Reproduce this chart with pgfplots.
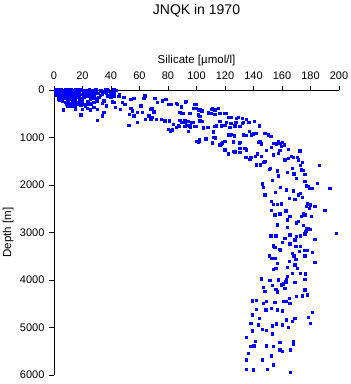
\documentclass[border=0pt]{standalone}
\usepackage{pgfplots}
\pgfplotsset{compat=1.18}
\usepackage{fontspec}
\setmainfont{Liberation Sans}
\definecolor{ptblue}{RGB}{0,0,255}
\begin{document}
\begin{tikzpicture}[x=1pt,y=1pt]
\useasboundingbox (0,0) rectangle (351,384);
\begin{axis}[
  at={(54pt,9pt)}, anchor=south west,
  scale only axis, width=285pt, height=285pt,
  xmin=0, xmax=200, ymin=0, ymax=6000,
  y dir=reverse,
  axis x line=top, axis y line=left,
  axis line style={-, line width=0.8pt, black},
  xtick={0,20,...,200}, ytick={0,1000,...,6000},
  tick align=outside, major tick length=4.5pt,
  tick style={line width=0.8pt, black},
  /pgf/number format/assume math mode=true,
  /pgf/number format/1000 sep={},
  ticklabel style={font=\fontsize{11}{12}\selectfont},
  xticklabel style={yshift=2.5pt},
  yticklabel style={xshift=-1.5pt},
  xlabel={Silicate [µmol/l]},
  xlabel style={at={(axis description cs:0.5,1.105)}, anchor=center, font=\fontsize{11.5}{13}\selectfont},
  ylabel={Depth [m]},
  ylabel style={at={(axis description cs:-0.161,0.5)}, anchor=center, font=\fontsize{11.5}{13}\selectfont},
  title={JNQK in 1970},
  title style={at={(axis description cs:0.5,1.288)}, anchor=center, yshift=-9pt, font=\fontsize{14}{16}\selectfont},
  clip=false,
]
\addplot[only marks, mark=square*, mark size=1.25pt, color=ptblue, mark options={line width=0pt}] table {
x y
1 5
2 10
3 0
4 15
5 5
6 20
7 10
8 0
9 25
10 5
11 15
12 0
13 10
14 20
15 5
17 15
19 0
21 10
23 20
25 5
27 15
30 0
33 10
36 5
38 20
42 0
44 10
1 40
2 60
3 80
4 50
5 70
6 90
7 45
8 65
9 85
10 55
11 75
12 95
13 40
14 60
15 80
16 50
18 70
20 90
22 45
24 65
26 85
28 55
31 75
34 95
37 60
40 80
2 110
3 130
4 150
5 170
6 190
7 120
8 140
9 160
10 180
11 105
12 125
13 145
14 165
15 185
16 115
17 135
18 155
19 175
20 195
22 110
24 130
26 150
28 170
30 190
3 185
5 125
7 175
9 105
11 195
13 115
4 210
6 240
8 260
10 230
12 280
14 250
16 300
18 220
20 270
22 310
24 240
26 290
9 300
11 330
13 220
15 340
17 260
19 320
6.5 420
19 526
15 21
17.5 0
21 21
23.4 56
27 21
29 0
33 21
35 56
37.4 0
40 56
42 42
45.6 141
49 162
54 197
56 176
63 183
64 127
35 232
34 281
37 337
42 267
43 372
46.8 407
48 267
50 302
54 393
55 442
53 513
56 548
58.5 477
61 337
62 477
64.3 618
68 407
66.7 548
68 618
52.6 744
58.5 688
30.4 639
34 548
35 477
28 372
30.4 407
25.7 421
23.4 393
20 407
22 337
18.7 534
15.2 407
14 337
16.4 302
12.9 267
10.5 302
11.7 351
9.4 337
17.5 267
21 302
24.6 302
28 267
30.4 232
25.7 197
21 162
16.4 162
14 127
18.7 91
23.4 127
28 127
31.6 162
32.7 112
37.4 127
40 162
41 253
42 127
46 91
70.9 176
72.5 267
76.3 232
78.6 197
80.3 302
82.6 302
86.1 281
89.6 351
92.7 246
97.8 393
99.7 302
101.3 407
103.7 442
108.3 477
110.7 407
113 421
115.4 393
120 491
122.4 583
124.7 583
129.4 583
132.4 604
135.2 618
68.6 393
70.2 463
68.6 583
72.1 618
75.6 618
77.9 653
81 653
83.8 723
80.3 828
81.9 863
87.3 758
89.6 688
92 653
93.1 744
95.5 758
97.8 688
100.1 772
102.5 653
104.8 793
107.6 793
111.8 884
114.2 758
117.7 758
120 744
123.5 793
127.1 758
130.5 772
132.9 688
136.4 688
102 1039
101.3 1095
106.7 1018
111.4 1123
113 1004
116.5 1165
118.4 1123
123.5 955
125.9 1095
130.1 1123
120 1263
122.4 1355
127.1 1305
130.5 1319
134.1 1235
134.8 1425
137.6 1460
111.8 1004
82.6 302
86.5 302
89.6 365
92.2 253
99 302
100.1 386
101.3 421
102.9 407
111.4 400
115.3 386
88.4 477
89.6 491
90.8 491
95.4 491
101.3 526
102.5 561
108.3 491
110.6 491
113 512
116.5 491
120.7 491
123.5 583
128.2 597
132.4 597
88.4 646
91.9 688
94.3 667
96.6 688
99 772
104.1 667
116.5 667
121.2 688
124.2 702
127.7 681
132.4 702
137.1 688
140.8 667
144.1 758
86.1 786
88 772
91.9 772
95.9 786
104.8 807
108.3 786
113 772
83.3 842
94.3 877
100.1 1088
102 1074
106.7 1039
111.1 1109
111.8 877
113.4 1018
118.1 1109
120 1088
122.3 947
124.7 933
126.5 968
130.5 1109
132.9 947
135.2 961
137.1 877
138.7 947
139.9 926
142.2 912
143.4 1109
144.6 1088
145.7 1137
148.1 912
150.4 947
152.3 983
153.9 1123
156.2 1137
158.6 1123
160.2 1109
157.4 1088
161.6 1158
164.4 1256
159.8 1193
116.5 1158
117.7 1137
120 1263
122.3 1347
125.8 1298
127.2 1319
130.5 1228
135.2 1263
138.2 1418
141.5 1404
142.9 1347
145.7 1404
148.1 1509
149.2 1277
152.7 1214
153.9 1368
157.4 1333
158.6 1277
162.1 1474
164.4 1439
166.8 1404
167.9 1418
171 1418
171.5 1474
172.6 1284
173.1 1586
174.5 1530
176.1 1776
186.2 1586
142.2 1579
145 1579
147.4 1530
151.1 1670
152 1649
156.7 1705
157.4 1811
164 1733
167.5 1649
168.4 1769
170.3 1860
173.8 1684
175 1698
146.2 1979
146.9 2049
148.1 2211
153.4 1909
155.5 2162
159 2049
163 2105
165.1 2281
167.9 2126
169.1 2302
171.5 2211
173.1 2176
174.5 2260
176.1 1930
177.3 2021
178.5 2035
179.6 2070
181.5 2070
185 1965
193.7 2070
152.7 2351
153.9 2407
156.7 2407
159.8 2400
152.7 2540
155.1 2632
158.6 2611
162.8 2548
163.7 2737
165.6 2667
170.3 2807
171.5 2772
173.8 2667
175 2597
176.1 2632
177.3 2456
178 2400
179.2 2491
180.1 2421
180.8 2667
183.1 2456
190.2 2540
177.3 2913
179.6 2934
175 2856
156.7 2842
164 2891
157 2835
170.3 2793
176.8 2983
178.5 2912
183.1 3144
198.4 3018
152.3 3074
155.8 3074
162.1 3123
165.6 3053
169.1 3158
170.3 3088
173.1 3074
176.1 3032
160.2 3214
165.6 3242
169.8 3298
173.1 3298
153.9 3284
155.1 3312
158.6 3354
159.1 3383
172.2 3404
176.1 3383
178 3383
181.3 3418
151.1 3495
152.7 3544
155.1 3544
156.7 3649
167.5 3439
168.4 3495
169.8 3565
165.1 3614
176.1 3495
183.1 3628
153.9 3776
155.8 3755
164 3733
169.1 3684
171 3755
167.5 3860
173.1 3860
176.6 3874
176.1 3986
163.7 3930
163.3 3986
162.8 4042
160.9 4084
159.8 4105
157.4 4000
151.6 4014
153.2 4112
145.7 3979
146.9 4161
148.1 4246
155.8 4197
156.7 4253
162.1 4175
169.1 4056
176.1 4211
177.8 4316
174.5 4337
170.3 4351
165.1 4386
165.6 4491
163.3 4456
160.9 4456
155.1 4470
149.2 4456
146.9 4491
139.4 4442
142.2 4435
142.2 4618
148.8 4632
152.7 4597
156.9 4632
160.2 4653
139.4 4737
144.1 4807
138.2 4913
143.4 4948
146.4 5039
149.2 5067
153.2 4969
156.3 4926
160.2 4948
163.3 4842
164.4 5004
169.1 4807
167.5 4877
178.5 4786
180.1 4913
181.5 4688
139.2 5074
153.5 5137
135.2 5207
141.5 5298
138.2 5404
140.3 5390
149.2 5390
153.9 5404
158.6 5320
167.9 5298
167.9 5348
166.1 5474
158.6 5474
160.5 5509
152.7 5600
136.4 5544
135.2 5684
146.4 5684
153.9 5790
135.2 5881
139.9 5895
149.9 5881
166.1 5951
};
\end{axis}
\end{tikzpicture}
\end{document}
